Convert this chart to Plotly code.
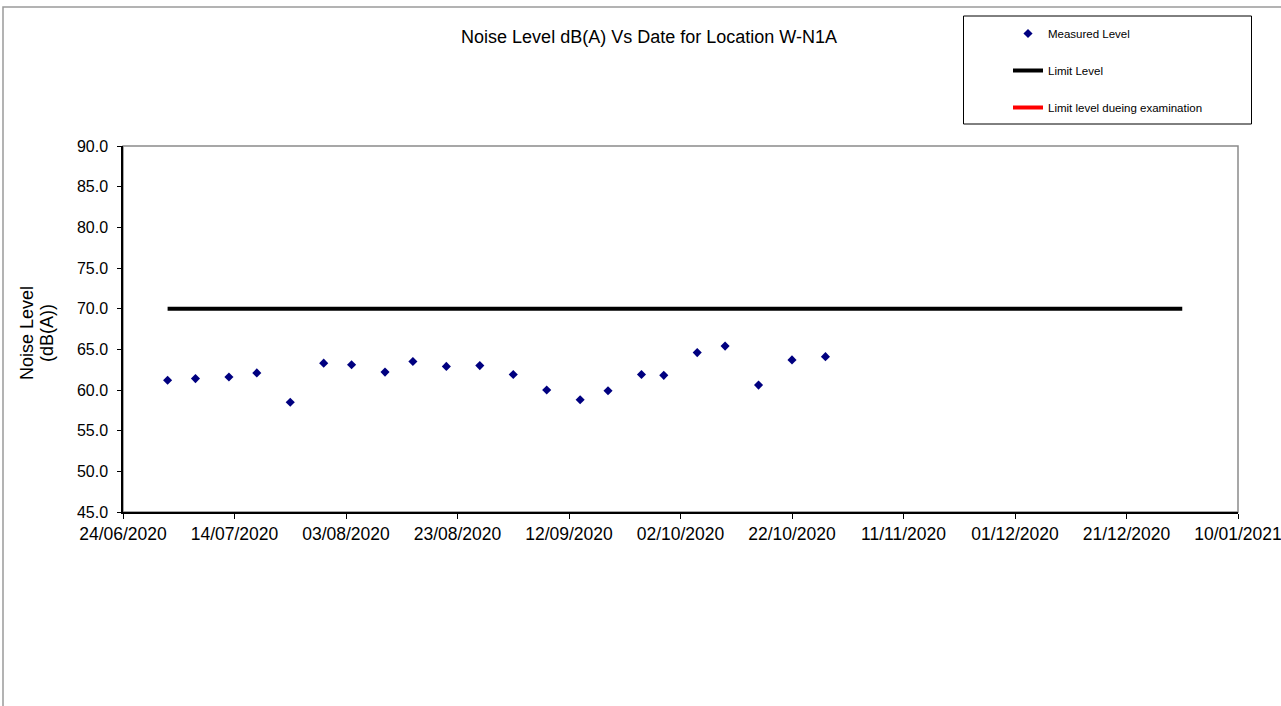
import plotly.graph_objects as go

# ---- data ----
measured_dates = ["2020-07-02", "2020-07-07", "2020-07-13", "2020-07-18", "2020-07-24",
                  "2020-07-30", "2020-08-04", "2020-08-10", "2020-08-15", "2020-08-21",
                  "2020-08-27", "2020-09-02", "2020-09-08", "2020-09-14", "2020-09-19",
                  "2020-09-25", "2020-09-29", "2020-10-05", "2020-10-10", "2020-10-16",
                  "2020-10-22", "2020-10-28"]
measured_values = [61.2, 61.4, 61.6, 62.1, 58.5, 63.3, 63.1, 62.2, 63.5, 62.9, 63.0,
                   61.9, 60.0, 58.8, 59.9, 61.9, 61.8, 64.6, 65.4, 60.6, 63.7, 64.1]
limit_dates = ["2020-07-02", "2020-12-31"]
limit_values = [70, 70]
exam_dates = [None]
exam_values = [None]

title_text = "Noise Level dB(A) Vs Date for Location W-N1A"
y_title_lines = ["Noise Level", "(dB(A))"]

# body margin is removed by the post script, so the figure starts at the page origin
OFF = 0
W, H = 1281, 706
L, T = 123, 146
pw, ph = 1115, 366
R = W - L - pw
B = H - T - ph

def px_x(p):
    """page x pixel -> paper coordinate"""
    return (p - OFF - L) / pw

def px_y(p):
    """page y pixel -> paper coordinate"""
    return (T + ph - (p - OFF)) / ph

fig = go.Figure()
fig.add_trace(go.Scatter(x=measured_dates, y=measured_values, mode="markers",
                         name="Measured Level", legendgroup="a",
                         marker=dict(symbol="diamond", size=7, color="#000080")))
fig.add_trace(go.Scatter(x=limit_dates, y=limit_values, mode="lines",
                         name="Limit Level", legendgroup="b",
                         line=dict(color="black", width=4)))
fig.add_trace(go.Scatter(x=exam_dates, y=exam_values, mode="lines",
                         name="Limit level dueing examination", legendgroup="c",
                         line=dict(color="red", width=4)))

font = "Liberation Sans, Arial, sans-serif"
fig.update_layout(
    width=W, height=H,
    margin=dict(l=L, r=R, t=T, b=B, autoexpand=False),
    paper_bgcolor="white", plot_bgcolor="white",
    font=dict(family=font, color="black"),
    hovermode=False,
    title=dict(text=title_text, x=px_x(649), xref="paper", xanchor="center",
               y=1 - (37 - OFF) / H, yref="container", yanchor="middle",
               font=dict(size=18, family=font, color="black")),
    xaxis=dict(type="date", range=["2020-06-24", "2021-01-10"],
               tick0="2020-06-24", dtick=20 * 86400000, tickformat="%d/%m/%Y",
               ticks="outside", ticklen=5, tickcolor="black", tickwidth=1,
               showline=True, linecolor="black", linewidth=1.5,
               showgrid=False, zeroline=False, ticklabeloverflow="allow",
               tickfont=dict(size=17.5, family=font, color="black")),
    yaxis=dict(range=[45, 90], dtick=5, tick0=45, tickformat=".1f",
               ticks="outside", ticklen=4, tickcolor="black", tickwidth=1,
               showline=True, linecolor="black", linewidth=1.5,
               showgrid=False, zeroline=False, ticklabelstandoff=6,
               tickfont=dict(size=16, family=font, color="black")),
    showlegend=True,
    legend=dict(x=px_x(1008), y=px_y(19), xanchor="left", yanchor="top",
                xref="paper", yref="paper",
                bgcolor="rgba(0,0,0,0)", borderwidth=0,
                tracegroupgap=18, traceorder="grouped",
                font=dict(size=11.5, family=font, color="black")),
    shapes=[
        # outer chart frame
        dict(type="rect", xref="paper", yref="paper",
             x0=px_x(3), y0=px_y(740), x1=px_x(1320), y1=px_y(7),
             line=dict(color="#9a9a9a", width=1.5), layer="below"),
        # plot area frame (top/right in gray)
        dict(type="rect", xref="paper", yref="paper", x0=0, y0=0, x1=1, y1=1,
             line=dict(color="#8a8a8a", width=1.5), layer="below"),
        # legend box
        dict(type="rect", xref="paper", yref="paper",
             x0=px_x(963.5), y0=px_y(124), x1=px_x(1251.5), y1=px_y(16),
             line=dict(color="black", width=1), layer="below"),
    ],
    annotations=[
        dict(text=y_title_lines[0], xref="paper", yref="paper", x=px_x(27), y=px_y(333),
             xanchor="center", yanchor="middle", showarrow=False, textangle=-90,
             font=dict(size=18, family=font, color="black")),
        dict(text=y_title_lines[1], xref="paper", yref="paper", x=px_x(47), y=px_y(333),
             xanchor="center", yanchor="middle", showarrow=False, textangle=-90,
             font=dict(size=18, family=font, color="black")),
    ],
)

fig.write_html("out.html",
               config={"displayModeBar": False},
               post_script="document.body.style.margin='0';document.body.style.overflow='hidden';")
